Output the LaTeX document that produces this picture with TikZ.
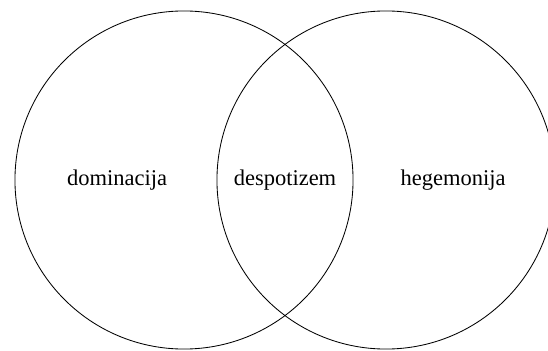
\documentclass[tikz,border=0pt]{standalone}
\usepackage{fontspec}
\setmainfont{Liberation Serif}
\usepackage{tikz}
\usetikzlibrary{positioning}

\begin{document}
\begin{tikzpicture}[
      x=0.025cm, y=-0.025cm,
      set/.style={draw, circle, line width=0.6pt, minimum size=8.45cm,
                  inner sep=0pt, outer sep=0pt},
      word/.style={font=\fontsize{16}{19}\selectfont, anchor=base, inner sep=0pt},
    ]
    \useasboundingbox (0,0) rectangle (548,350);
    \clip (0,0) rectangle (548,350);

    % ---- sets ----
    \node[set] (dom) at (184,180) {};
    \node[set] (heg) at (386,180) {};

    % ---- labels ----
    \node[word] (ldom) at (117,185) {dominacija};
    \node[word] (ldes) at (285,185) {despotizem};
    \node[word] (lheg) at (453,185) {hegemonija};
  \end{tikzpicture}
\end{document}
